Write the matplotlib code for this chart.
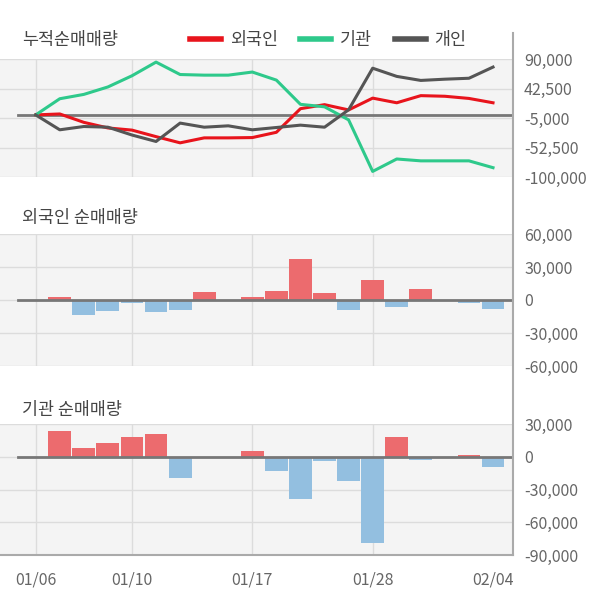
import numpy as np
import matplotlib
matplotlib.use('Agg')
import matplotlib.pyplot as plt
from matplotlib.lines import Line2D

plt.rcParams['font.family'] = ['Noto Sans CJK KR', 'DejaVu Sans']

# trading days (2020)
dates = ['01/06', '01/07', '01/08', '01/09', '01/10', '01/13', '01/14', '01/15',
         '01/16', '01/17', '01/20', '01/21', '01/22', '01/23', '01/28', '01/29',
         '01/30', '01/31', '02/03', '02/04']
label_idx = [0, 4, 9, 14, 19]

# cumulative net buying
cum_foreign = [0, 1500, -12000, -21000, -24500, -35000, -45000, -37000, -37000, -36500,
               -28000, 10000, 16500, 8000, 27000, 19500, 31000, 30000, 26500, 19500]
cum_inst = [0, 26000, 33000, 45000, 63000, 85000, 65000, 64000, 64000, 69000,
            56000, 17000, 13000, -8000, -91000, -71000, -74000, -74000, -74000, -85000]
cum_indiv = [0, -24000, -18700, -19800, -32400, -42800, -13200, -19800, -17600, -24000,
             -20300, -16500, -19800, 8200, 75200, 62000, 55500, 57500, 59000, 77000]

# daily net buying
foreign_daily = [0, 2500, -13300, -9700, -3000, -11200, -8800, 7600, 0, 2300,
                 8500, 37600, 6700, -8800, 18500, -6700, 10300, 0, -3000, -7900]
inst_daily = [0, 23600, 8000, 12500, 18000, 20800, -19300, 0, 0, 5200,
              -12900, -38600, -3700, -22000, -79000, 18000, -2800, 0, 1800, -9200]

BG = '#f4f4f4'
GRID = '#dcdcdc'
ZERO = '#777777'
TXT = '#666666'
POS = '#ec6b6e'
NEG = '#93bfe0'

W, H = 600, 604
fig = plt.figure(figsize=(6, 6.04), dpi=100)

x = np.arange(len(dates))
xl = (-1.483, 19.83)

def make_ax(top, bottom, yticks, ylim):
    ax = fig.add_axes([0, 1 - bottom / H, 513 / W, (bottom - top) / H])
    ax.set_facecolor(BG)
    ax.set_xlim(*xl)
    ax.set_ylim(*ylim)
    for s in ax.spines.values():
        s.set_visible(False)
    ax.yaxis.tick_right()
    ax.set_yticks(yticks)
    ax.set_yticklabels(['{:,}'.format(v) for v in yticks])
    ax.tick_params(axis='y', length=0, pad=8, labelsize=11.5, labelcolor=TXT)
    ax.set_xticks([])
    for v in yticks:
        ax.axhline(v, color=GRID, lw=1, zorder=0)
    for i in label_idx[:-1]:
        ax.axvline(i, color=GRID, lw=1, zorder=0)
    ax.axhline(0, xmin=18 / 513, color=ZERO, lw=2, zorder=3)
    return ax

# cumulative panel
ax1 = make_ax(59, 177, [90000, 42500, -5000, -52500, -100000], (-100000, 90000))
ax1.plot(x, cum_foreign, color='#e8141c', lw=2.2, zorder=4)
ax1.plot(x, cum_inst, color='#2ec98b', lw=2.2, zorder=4)
ax1.plot(x, cum_indiv, color='#555555', lw=2.2, zorder=4)

handles = [Line2D([], [], color='#e8141c', lw=4),
           Line2D([], [], color='#2ec98b', lw=4),
           Line2D([], [], color='#555555', lw=4)]
fig.legend(handles, ['외국인', '기관', '개인'], loc='center left',
           bbox_to_anchor=(174 / W, 1 - 40 / H), ncol=3, frameon=False,
           fontsize=12.5, handlelength=1.8, handletextpad=0.5, columnspacing=1.3,
           labelcolor='#444444')

# foreign daily
ax2 = make_ax(234, 366, [60000, 30000, 0, -30000, -60000], (-60000, 60000))
ax2.bar(x, foreign_daily, width=0.95,
        color=[POS if v > 0 else NEG for v in foreign_daily], zorder=2)

# institution daily
ax3 = make_ax(424, 555, [30000, 0, -30000, -60000, -90000], (-90000, 30000))
ax3.bar(x, inst_daily, width=0.95,
        color=[POS if v > 0 else NEG for v in inst_daily], zorder=2)
ax3.spines['bottom'].set_visible(True)
ax3.spines['bottom'].set_color('#aaaaaa')
ax3.spines['bottom'].set_linewidth(1.5)
ax3.set_xticks(label_idx)
ax3.set_xticklabels([dates[i] for i in label_idx])
ax3.tick_params(axis='x', length=0, pad=12, labelsize=11.5, labelcolor=TXT)

# panel titles
fig.text(22 / W, 1 - 40 / H, '누적순매매량', fontsize=12.5, color='#444444', va='center')
fig.text(22 / W, 1 - 218 / H, '외국인 순매매량', fontsize=12.5, color='#444444', va='center')
fig.text(22 / W, 1 - 410 / H, '기관 순매매량', fontsize=12.5, color='#444444', va='center')

# right border line
fig.add_artist(Line2D([513 / W, 513 / W], [1 - 33 / H, 1 - 555 / H],
                      color='#aaaaaa', lw=1.5, transform=fig.transFigure))

fig.savefig('out.png', dpi=100, facecolor='white')
